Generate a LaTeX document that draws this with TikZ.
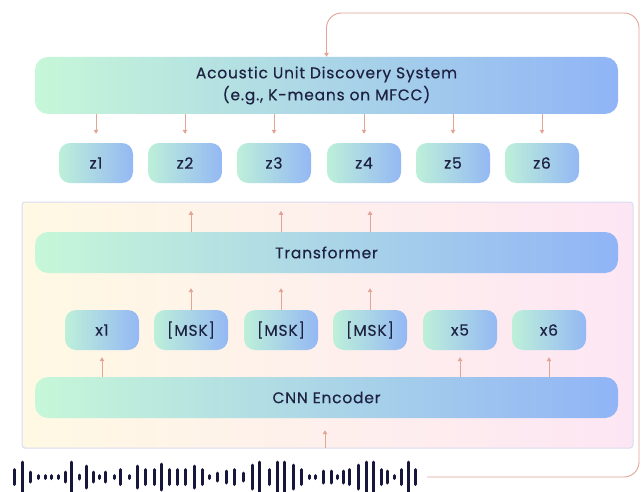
\documentclass[tikz,border=0pt]{standalone}
\usepackage{fontspec}
\setmainfont{Poppins}[LetterSpace=5,FakeBold=0.4]
\usetikzlibrary{arrows.meta,calc}
\definecolor{navy}{HTML}{1E2242}
\definecolor{mint}{HTML}{C6F7D8}
\definecolor{midc}{HTML}{B2E2E6}
\definecolor{blu}{HTML}{90B4F6}
\definecolor{smint}{HTML}{BDF0D9}
\definecolor{sblu}{HTML}{94B8F4}
\definecolor{salmon}{HTML}{E2A494}
\definecolor{cream}{HTML}{FFF9E4}
\definecolor{pinkc}{HTML}{FDE6F4}
\definecolor{lav}{HTML}{DADCF2}
\definecolor{wavec}{HTML}{17173C}
\begin{document}
\begin{tikzpicture}[x=1pt,y=-1pt,
  bigbox/.style={rounded corners=13pt, left color=mint, middle color=midc, right color=blu,
    text=navy, font=\fontsize{15.5}{22}\selectfont, align=center, inner sep=0pt, minimum width=583pt},
  tok/.style={rounded corners=11pt, left color=smint, right color=sblu, text=navy,
    font=\fontsize{15.5}{18}\selectfont, inner sep=0pt, minimum width=74pt, minimum height=40pt},
  arr/.style={draw=salmon, line width=0.9pt, -{Triangle[length=4pt,width=4.5pt]}},
  wavebar/.style={draw=wavec, line width=3pt, line cap=round}
]
\useasboundingbox (0,0) rectangle (642,492);
\fill[white] (0,0) rectangle (642,492);

% panel
\node[draw=lav, line width=1pt, left color=cream, right color=pinkc, rounded corners=3pt,
  minimum width=611pt, minimum height=246pt, inner sep=0pt] (panel) at (327.5,325) {};

% top system
\node[bigbox, minimum height=57pt] (auds) at (326.5,85.5) {Acoustic Unit Discovery System\\(e.g., K-means on MFCC)};

% z tokens
\foreach \i/\x in {1/96,2/185,3/274,4/364,5/453,6/542}{
  \node[tok] (z\i) at (\x,163) {z\i};
  \draw[arr, shorten >=9pt] (auds.south -| z\i) -- (z\i.north);
}

% transformer
\node[bigbox, minimum height=41pt] (trans) at (326.5,252.5) {Transformer};

% x tokens
\node[tok] (x1) at (102,330) {x1};
\node[tok] (x2) at (191,330) {[MSK]};
\node[tok] (x3) at (281,330) {[MSK]};
\node[tok] (x4) at (370,330) {[MSK]};
\node[tok] (x5) at (460,330) {x5};
\node[tok] (x6) at (549,330) {x6};

% cnn
\node[bigbox, minimum height=41pt] (cnn) at (326.5,397.5) {CNN Encoder};

% arrows from transformer to outside
\foreach \i in {2,3,4}{
  \coordinate (t\i) at ($(x\i |- trans.north)+(0,-21)$);
}
\foreach \i in {2,3,4}{
  \draw[arr] (trans.north -| x\i) -- (t\i);
  \draw[arr, shorten >=15pt] (x\i.north) -- (trans.south -| x\i);
}
\foreach \i in {1,5,6}{
  \draw[arr, shorten >=7pt] (cnn.north -| x\i) -- (x\i.south);
}
\coordinate (pin) at (325,448);
\draw[arr, shorten >=12pt] (pin) -- (pin |- cnn.south);

% waveform
\foreach \x/\h in {14/15, 22/30, 30/10, 38/3, 45/3, 51/3, 58/3, 65/10, 71/30, 79/4, 86/22, 93/10, 99/3, 105/10,
114/3, 120/15, 129/3, 137/22, 145/15, 154/15, 161/26, 169/15, 177/15, 185/15, 194/22, 202/15, 209/3, 217/8,
226/12, 234/15, 243/8, 252/24, 259/30, 269/15, 277/30, 284/30, 293/24, 301/15, 309/3, 315/3, 323/12,
331/12, 337/3, 343/12, 349/15, 358/24, 366/30, 373/30, 381/15, 387/12, 394/3, 401/15, 408/30, 415/15}{
  \draw[wavebar] (\x,{477-\h/2}) -- (\x,{477+\h/2});
}

% feedback loop
\coordinate (wend) at (427,477);
\coordinate (fbr) at (639,477);
\coordinate (fbtop) at (639,13);
\draw[arr, rounded corners=15pt] (wend) -- (fbr) -- (fbtop) -- (fbtop -| auds.north) -- (auds.north);
\end{tikzpicture}
\end{document}
